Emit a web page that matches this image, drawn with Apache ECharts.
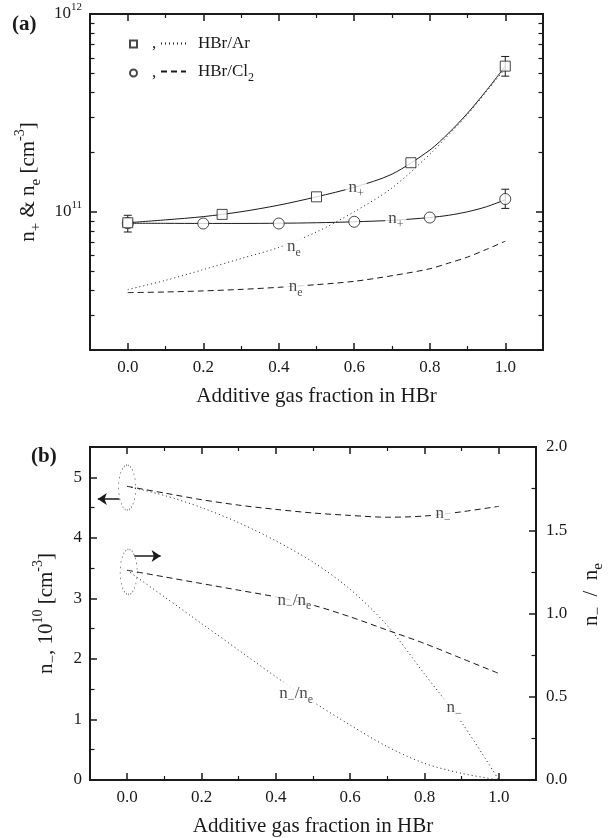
<!DOCTYPE html>
<html>
<head>
<meta charset="utf-8">
<title>n+ ne n- vs additive fraction</title>
<script src="https://cdn.jsdelivr.net/npm/echarts/dist/echarts.min.js"></script>
<style>
  html, body { margin: 0; padding: 0; background: #fff; }
  #chart { width: 614px; height: 838px; }
</style>
</head>
<body>
<div id="chart"></div>
<script>
// ---- panel (a): measured n+ (symbols) ----
var arX = [0, 0.25, 0.5, 0.75, 1.0];
var arNp = [8.8e10, 9.7e10, 1.19e11, 1.77e11, 5.45e11];
var clX = [0, 0.2, 0.4, 0.6, 0.8, 1.0];
var clNp = [8.75e10, 8.72e10, 8.72e10, 8.9e10, 9.35e10, 1.16e11];
// error bars: [x, low, high]
var errBars = [[0, 7.9e10, 9.6e10], [1.0, 4.85e11, 6.1e11], [1.0, 1.04e11, 1.30e11]];

// ---- panel (a): model curves ----
var xa = [0, 0.1, 0.2, 0.3, 0.4, 0.5, 0.6, 0.7, 0.8, 0.85, 0.9, 0.95, 1.0];
var arNpFit = [8.8e10, 9.1e10, 9.45e10, 1.0e11, 1.08e11, 1.19e11, 1.33e11, 1.55e11, 2.05e11, 2.5e11, 3.15e11, 4.1e11, 5.45e11];
var clNpFit = [8.75e10, 8.74e10, 8.73e10, 8.73e10, 8.75e10, 8.8e10, 8.9e10, 9.05e10, 9.35e10, 9.6e10, 1.0e11, 1.06e11, 1.15e11];
var arNe = [4.04e10, 4.5e10, 5.1e10, 5.8e10, 6.6e10, 7.9e10, 1.0e11, 1.32e11, 1.95e11, 2.45e11, 3.1e11, 4.05e11, 5.3e11];
var clNe = [3.9e10, 3.93e10, 3.98e10, 4.05e10, 4.15e10, 4.28e10, 4.45e10, 4.75e10, 5.15e10, 5.5e10, 5.9e10, 6.45e10, 7.1e10];

// ---- panel (b) ----
var xb = [0, 0.1, 0.2, 0.3, 0.4, 0.5, 0.6, 0.7, 0.8, 0.9, 1.0];
var clNm = [4.85, 4.74, 4.63, 4.54, 4.47, 4.41, 4.37, 4.34, 4.36, 4.43, 4.52];   // 10^10 cm-3
var arNm = [4.85, 4.7, 4.5, 4.25, 3.95, 3.6, 3.15, 2.55, 1.75, 0.95, 0.0];
var clRatio = [1.26, 1.22, 1.18, 1.14, 1.10, 1.05, 0.98, 0.90, 0.82, 0.73, 0.64];
var arRatio = [1.26, 1.10, 0.94, 0.78, 0.62, 0.47, 0.33, 0.20, 0.10, 0.04, 0.0];

// ---- ticks ----
var xMajor = [0, 0.2, 0.4, 0.6, 0.8, 1.0];
var xMinor = [0.1, 0.3, 0.5, 0.7, 0.9];
var logMajor = [1e11, 1e12];
var logMinor = [3e10, 4e10, 5e10, 6e10, 7e10, 8e10, 9e10, 2e11, 3e11, 4e11, 5e11, 6e11, 7e11, 8e11, 9e11];
var nmMajor = [0, 1, 2, 3, 4, 5];
var nmMinor = [0.5, 1.5, 2.5, 3.5, 4.5];
var ratioMajor = [0, 0.5, 1.0, 1.5, 2.0];
var ratioMinor = [0.25, 0.75, 1.25, 1.75];

var FONT = 'Liberation Serif';
var INK = '#1a1a1a';

var rich = {
  n: { fontFamily: FONT, fontSize: 17, lineHeight: 24, color: INK },
  s: { fontFamily: FONT, fontSize: 12, lineHeight: 12, verticalAlign: 'bottom', color: INK },
  p: { fontFamily: FONT, fontSize: 11, lineHeight: 11, verticalAlign: 'top', color: INK },
  // axis titles
  N: { fontFamily: FONT, fontSize: 21, lineHeight: 30, color: INK },
  S: { fontFamily: FONT, fontSize: 15, lineHeight: 15, verticalAlign: 'bottom', color: INK },
  P: { fontFamily: FONT, fontSize: 14, lineHeight: 14, verticalAlign: 'top', color: INK }
};

function pairs(xs, ys) {
  return xs.map(function (x, i) { return [x, ys[i]]; });
}

function tick(vals, len, w) {
  return { inside: true, length: len, customValues: vals, lineStyle: { color: INK, width: w } };
}

var lineAx = { onZero: false, lineStyle: { color: INK, width: 2 } };
var tickFont = { fontFamily: FONT, fontSize: 17, color: INK };

function xAxes(g) {
  var base = { type: 'value', gridIndex: g, min: -0.1, max: 1.1, splitLine: { show: false } };
  return [
    Object.assign({}, base, {
      position: 'bottom', axisLine: lineAx, axisTick: tick(xMajor, 7, 1.5),
      axisLabel: Object.assign({ customValues: xMajor, margin: 9, formatter: function (v) { return v.toFixed(1); } }, tickFont),
      name: 'Additive gas fraction in HBr', nameLocation: 'middle', nameGap: 36,
      nameTextStyle: { fontFamily: FONT, fontSize: 21, color: INK }
    }),
    Object.assign({}, base, { position: 'bottom', axisLine: lineAx, axisTick: tick(xMinor, 4, 1.2), axisLabel: { show: false } }),
    Object.assign({}, base, { position: 'top', axisLine: lineAx, axisTick: tick(xMajor, 7, 1.5), axisLabel: { show: false } }),
    Object.assign({}, base, { position: 'top', axisLine: lineAx, axisTick: tick(xMinor, 4, 1.2), axisLabel: { show: false } })
  ];
}

function yAxes(g, type, min, max, major, minor, labL, labR, fmt) {
  var base = { type: type, gridIndex: g, min: min, max: max, splitLine: { show: false } };
  if (type === 'log') base.logBase = 10;
  return [
    Object.assign({}, base, {
      position: 'left', axisLine: lineAx, axisTick: tick(major, 7, 1.5),
      axisLabel: labL ? Object.assign({ customValues: major, margin: 8, formatter: fmt, rich: rich }, tickFont) : { show: false }
    }),
    Object.assign({}, base, { position: 'left', axisLine: lineAx, axisTick: tick(minor, 4.5, 1.2), axisLabel: { show: false } }),
    Object.assign({}, base, {
      position: 'right', axisLine: lineAx, axisTick: tick(major, 7, 1.5),
      axisLabel: labR ? Object.assign({ customValues: major, margin: 10, formatter: fmt, rich: rich }, tickFont) : { show: false }
    }),
    Object.assign({}, base, { position: 'right', axisLine: lineAx, axisTick: tick(minor, 4.5, 1.2), axisLabel: { show: false } })
  ];
}

function pow10(v) {
  var e = Math.round(Math.log(v) / Math.LN10);
  return '{n|10}{p|' + e + '}';
}

var yA = yAxes(0, 'log', 2e10, 1e12, logMajor, logMinor, true, false, pow10);
yA[0].name = '{N|n}{S|+}{N| & n}{S|e}{N| [cm}{P|-3}{N|]}';
yA[0].nameLocation = 'middle';
yA[0].nameGap = 44;
yA[0].nameTextStyle = { rich: rich };

var yBl = yAxes(1, 'value', 0, 5.5, nmMajor, nmMinor, true, false, function (v) { return String(v); });
yBl[0].name = '{N|n}{S|−}{N|, 10}{P|10}{N| [cm}{P|-3}{N|]}';
yBl[0].nameLocation = 'middle';
yBl[0].nameGap = 29;
yBl[0].nameTextStyle = { rich: rich };
// nm scale: ticks only on the left
yBl[2].axisTick = { show: false };
yBl[3].axisTick = { show: false };

var yBr = yAxes(1, 'value', 0, 2, ratioMajor, ratioMinor, false, true, function (v) { return v.toFixed(1); });
// ratio scale: ticks only on the right
yBr[0].axisLine = { show: false }; yBr[0].axisTick = { show: false };
yBr[1].axisLine = { show: false }; yBr[1].axisTick = { show: false };
yBr[2].name = '{N|n}{S|−}{N|  /  n}{S|e}';
yBr[2].nameLocation = 'middle';
yBr[2].nameGap = 40;
yBr[2].nameRotate = 90;
yBr[2].nameTextStyle = { rich: rich, padding: [0, 0, 0, 38] };

var xAll = xAxes(0).concat(xAxes(1));          // 0..3 panel a, 4..7 panel b
var yAll = yA.concat(yBl).concat(yBr);         // 0..3 a (log), 4..7 b nm, 8..11 b ratio

var dotted = [1, 3];
var dashed = [6, 4];

function curve(name, xi, yi, data, dash) {
  return {
    name: name, type: 'line', xAxisIndex: xi, yAxisIndex: yi, data: data,
    smooth: 0.3, symbol: 'none', silent: true,
    itemStyle: { color: INK, opacity: 0 },
    lineStyle: { color: INK, width: 1, type: dash }
  };
}

function note(xi, yi, x, y, txt) {
  return {
    type: 'scatter', xAxisIndex: xi, yAxisIndex: yi, symbolSize: 1, silent: true, z: 10,
    itemStyle: { color: 'rgba(0,0,0,0)' },
    data: [{ value: [x, y], label: { show: true, position: 'inside', formatter: txt, backgroundColor: '#fff', padding: [0, 3], rich: rich } }]
  };
}

function marker(yi, pos, from, to) {
  return {
    type: 'scatter', xAxisIndex: 4, yAxisIndex: yi, symbol: 'circle', symbolSize: [17, 45], silent: true,
    itemStyle: { color: 'rgba(0,0,0,0)', borderColor: INK, borderWidth: 1, borderType: [1, 2.5] },
    data: [pos],
    markLine: {
      silent: true, symbol: ['none', 'arrow'], symbolSize: 9, label: { show: false },
      lineStyle: { color: INK, width: 1.5, type: 'solid' },
      data: [[{ coord: from }, { coord: to }]]
    }
  };
}

var chart = echarts.init(document.getElementById('chart'), null, { renderer: 'canvas' });

var option = {
  animation: false,
  backgroundColor: '#fff',
  title: [
    { text: '(a)', left: 7, top: 9, textStyle: { fontFamily: FONT, fontSize: 21, fontWeight: 'bold', color: INK } },
    { text: '(b)', left: 26, top: 441, textStyle: { fontFamily: FONT, fontSize: 21, fontWeight: 'bold', color: INK } }
  ],
  legend: [
    {
      left: 124, top: 27, orient: 'vertical', itemWidth: 7, itemHeight: 7, itemGap: 5, selectedMode: false,
      data: ['Ar-meas', 'Cl2-meas'],
      formatter: function () { return ','; },
      textStyle: { fontFamily: FONT, fontSize: 17, lineHeight: 24, color: INK, padding: [0, 0, 0, 10] }
    },
    {
      left: 155, top: 30, orient: 'vertical', itemWidth: 25, itemHeight: 8, itemGap: 11, selectedMode: false,
      data: ['HBr/Ar', 'HBr/Cl2'],
      formatter: function (n) { return n === 'HBr/Cl2' ? '{n|HBr/Cl}{s|2}' : '{n|HBr/Ar}'; },
      textStyle: { rich: rich, padding: [0, 0, 0, 7] }
    }
  ],
  grid: [
    { left: 90, top: 14, width: 453, height: 336 },
    { left: 90, top: 447, width: 451, height: 333 }
  ],
  xAxis: xAll,
  yAxis: yAll,
  series: [
    // panel (a)
    curve('Ar-fit', 0, 0, pairs(xa, arNpFit), 'solid'),
    curve('Cl2-fit', 0, 0, pairs(xa, clNpFit), 'solid'),
    curve('HBr/Ar', 0, 0, pairs(xa, arNe), dotted),
    curve('HBr/Cl2', 0, 0, pairs(xa, clNe), dashed),
    {
      type: 'custom', xAxisIndex: 0, yAxisIndex: 0, silent: true, z: 3,
      data: errBars, encode: { x: 0, y: [1, 2] },
      renderItem: function (params, api) {
        var top = api.coord([api.value(0), api.value(2)]);
        var bot = api.coord([api.value(0), api.value(1)]);
        var st = { stroke: INK, lineWidth: 1 };
        return {
          type: 'group', children: [
            { type: 'line', shape: { x1: top[0], y1: top[1], x2: bot[0], y2: bot[1] }, style: st },
            { type: 'line', shape: { x1: top[0] - 4, y1: top[1], x2: top[0] + 4, y2: top[1] }, style: st },
            { type: 'line', shape: { x1: bot[0] - 4, y1: bot[1], x2: bot[0] + 4, y2: bot[1] }, style: st }
          ]
        };
      }
    },
    {
      name: 'Ar-meas', type: 'scatter', xAxisIndex: 0, yAxisIndex: 0, symbol: 'rect', symbolSize: 10, z: 5,
      itemStyle: { color: '#fff', borderColor: INK, borderWidth: 1 }, data: pairs(arX, arNp)
    },
    {
      name: 'Cl2-meas', type: 'scatter', xAxisIndex: 0, yAxisIndex: 0, symbol: 'circle', symbolSize: 11, z: 4,
      itemStyle: { color: '#fff', borderColor: INK, borderWidth: 1 }, data: pairs(clX, clNp)
    },
    note(0, 0, 0.605, 1.32e11, '{n|n}{s|+}'),
    note(0, 0, 0.71, 9.2e10, '{n|n}{s|+}'),
    note(0, 0, 0.44, 6.65e10, '{n|n}{s|e}'),
    note(0, 0, 0.445, 4.18e10, '{n|n}{s|e}'),

    // panel (b)
    curve('nm-Cl2', 4, 4, pairs(xb, clNm), dashed),
    curve('nm-Ar', 4, 4, pairs(xb, arNm), dotted),
    curve('ratio-Cl2', 4, 8, pairs(xb, clRatio), dashed),
    curve('ratio-Ar', 4, 8, pairs(xb, arRatio), dotted),
    marker(4, [0, 4.83], [-0.021, 4.64], [-0.079, 4.64]),
    marker(8, [0.004, 1.25], [0.019, 1.345], [0.09, 1.345]),
    note(4, 4, 0.85, 4.40, '{n|n}{s|−}'),
    note(4, 4, 0.88, 1.2, '{n|n}{s|−}'),
    note(4, 8, 0.45, 1.08, '{n|n}{s|−}{n|/n}{s|e}'),
    note(4, 8, 0.455, 0.52, '{n|n}{s|−}{n|/n}{s|e}')
  ]
};

chart.setOption(option);
</script>
</body>
</html>
